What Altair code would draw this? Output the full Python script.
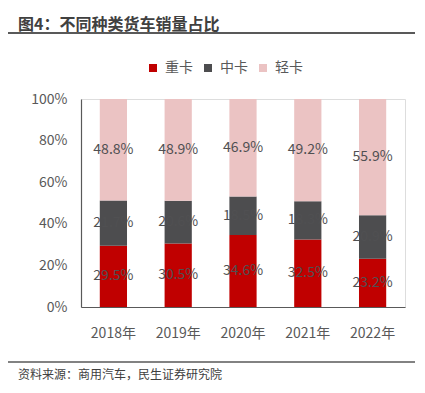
import altair as alt
import pandas as pd

years = ["2018年", "2019年", "2020年", "2021年", "2022年"]
series = ["重卡", "中卡", "轻卡"]
heavy = [29.5, 30.5, 34.6, 32.5, 23.2]
medium = [21.7, 20.6, 18.5, 18.3, 20.9]
light = [48.8, 48.9, 46.9, 49.2, 55.9]
colors = ["#C00000", "#4D4D4F", "#EBC3C3"]
y_ticks = [0, 20, 40, 60, 80, 100]

title_text = "图4：不同种类货车销量占比"
source_text = "资料来源：商用汽车，民生证券研究院"

FONT = "Noto Sans CJK SC"
TXT = "#595959"
LBL = "#505052"

rows = []
for i, y in enumerate(years):
    for k, (name, vals) in enumerate(zip(series, [heavy, medium, light])):
        rows.append({"year": y, "type": name, "value": vals[i], "order": k})
df = pd.DataFrame(rows)

base = alt.Chart(df)

bars = base.mark_bar().encode(
    x=alt.X("year:N", sort=years,
            scale=alt.Scale(paddingInner=0.58, paddingOuter=0.29),
            axis=alt.Axis(title=None, labelAngle=0, ticks=False, labelPadding=19,
                          labelFontSize=14, labelColor=TXT, labelFont=FONT,
                          domainColor="#595959", domainWidth=1.2)),
    y=alt.Y("value:Q", stack="zero",
            scale=alt.Scale(domain=[0, 100], nice=False),
            axis=alt.Axis(title=None, values=y_ticks, labelExpr="datum.value + '%'",
                          ticks=False, grid=False, labelPadding=14,
                          labelFontSize=14, labelColor=TXT, labelFont=FONT,
                          domainColor="#595959", domainWidth=1.2)),
    color=alt.Color("type:N", sort=series,
                    scale=alt.Scale(domain=series, range=colors),
                    legend=alt.Legend(title=None, orient="none", direction="horizontal",
                                      legendX=65, legendY=-38, symbolType="square",
                                      symbolSize=64, symbolStrokeWidth=0,
                                      labelFontSize=14, labelFont=FONT, labelColor=TXT,
                                      columnPadding=8, labelOffset=5, padding=0)),
    order=alt.Order("order:Q", sort="ascending"),
)

labels = base.transform_stack(
    stack="value", groupby=["year"], as_=["v0", "v1"],
    sort=[alt.SortField("order", order="ascending")]
).transform_calculate(
    mid="(datum.v0 + datum.v1) / 2",
    lab="format(datum.value, '.1f') + '%'"
).mark_text(fontSize=14, font=FONT, color=LBL, baseline="middle").encode(
    x=alt.X("year:N", sort=years),
    y=alt.Y("mid:Q"),
    text="lab:N",
)

deco_df = pd.DataFrame({"t": [title_text]})
title = alt.Chart(deco_df).mark_text(
    fontSize=16, fontWeight="bold", font=FONT, color="#404040", align="left", baseline="middle"
).encode(x=alt.value(-63), y=alt.value(-74), text="t:N")

src_df = pd.DataFrame({"t": [source_text]})
source = alt.Chart(src_df).mark_text(
    fontSize=12, font=FONT, color="#404040", align="left", baseline="middle"
).encode(x=alt.value(-63), y=alt.value(276), text="t:N")

rule_top = alt.Chart(deco_df).mark_rule(color="#595959", strokeWidth=2).encode(
    x=alt.value(-73), x2=alt.value(334), y=alt.value(-66))
rule_bot = alt.Chart(deco_df).mark_rule(color="#595959", strokeWidth=1.5).encode(
    x=alt.value(-73), x2=alt.value(334), y=alt.value(263))

chart = alt.layer(bars, labels, title, source, rule_top, rule_bot).properties(
    width=324, height=208,
    autosize=alt.AutoSizeParams(type="none"),
    padding={"left": 73, "top": 91, "right": 12, "bottom": 80},
).configure_view(stroke=None).configure(background="white")

chart.save("out.html", embed_options={"renderer": "svg", "actions": False})
